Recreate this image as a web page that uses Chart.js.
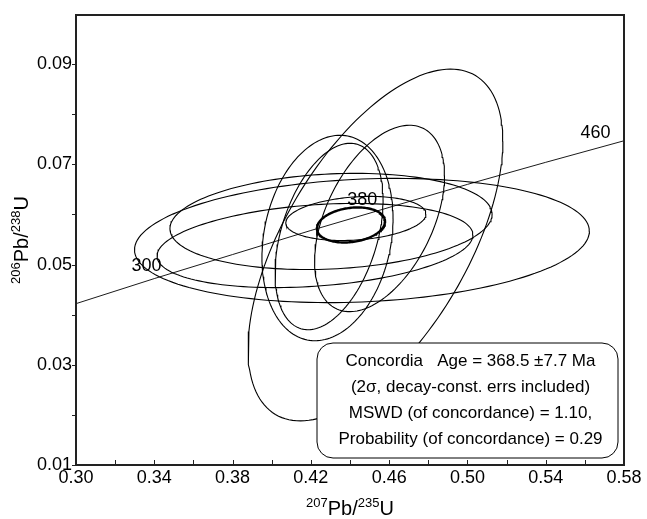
<!DOCTYPE html>
<html>
<head>
<meta charset="utf-8">
<script src="https://cdn.jsdelivr.net/npm/chart.js@4.4.1/dist/chart.umd.min.js"></script>
<style>
  html, body { margin: 0; padding: 0; background: #fff; }
  #wrap { width: 647px; height: 519px; }
</style>
</head>
<body>
<div id="wrap"><canvas id="concordia-chart" width="647" height="519"></canvas></div>
<script>
// axis ticks
const xTicks = [0.30, 0.34, 0.38, 0.42, 0.46, 0.50, 0.54, 0.58];
const xMinor = [0.32, 0.36, 0.40, 0.44, 0.48, 0.52, 0.56];
const yTicks = [0.01, 0.03, 0.05, 0.07, 0.09];
const yMinor = [0.02, 0.04, 0.06, 0.08];

// error ellipses: centre, half widths (2 sigma), correlation
const ellCx  = [0.4530, 0.4551, 0.4285, 0.4293, 0.4461, 0.4303, 0.4221, 0.4430];
const ellCy  = [0.0539, 0.0592, 0.0553, 0.0556, 0.0548, 0.0586, 0.0538, 0.0592];
const ellHx  = [0.0651, 0.0332, 0.0335, 0.0276, 0.1162, 0.0823, 0.0807, 0.0358];
const ellHy  = [0.0351, 0.0186, 0.0205, 0.0186, 0.0124, 0.0096, 0.0084, 0.0044];
const ellRho = [0.59, 0.46, 0.19, 0.39, 0.15, 0.15, 0.25, 0.20];

// concordia age ellipse (bold)
const ageCx = 0.4405, ageCy = 0.0579, ageHx = 0.0174, ageHy = 0.0035, ageRho = 0.20;

// concordia curve
const concX = [0.30, 0.34, 0.38, 0.42, 0.46, 0.50, 0.54, 0.58];
const concY = [0.0422, 0.0472, 0.0520, 0.0568, 0.0614, 0.0660, 0.0704, 0.0747];

// age marks on the curve
const ageLabels = ['300', '380', '460'];
const ageX = [0.3437, 0.4539, 0.5731];
const ageY = [0.0476, 0.0607, 0.0740];

const boxLines = [
  'Concordia   Age = 368.5 \u00b17.7 Ma',
  '(2\u03c3, decay-const. errs included)',
  'MSWD (of concordance) = 1.10,',
  'Probability (of concordance) = 0.29'
];

const FONT = "'Liberation Sans', Arial, sans-serif";

function ellipsePoints(cx, cy, hx, hy, rho) {
  const pts = [];
  const s = Math.sqrt(1 - rho * rho);
  for (let k = 0; k <= 160; k++) {
    const t = 2 * Math.PI * k / 160;
    pts.push({ x: cx + hx * Math.cos(t), y: cy + hy * (rho * Math.cos(t) + s * Math.sin(t)) });
  }
  return pts;
}

const datasets = [];
for (let i = 0; i < ellCx.length; i++) {
  datasets.push({
    data: ellipsePoints(ellCx[i], ellCy[i], ellHx[i], ellHy[i], ellRho[i]),
    showLine: true, borderColor: '#000', borderWidth: 1.1, pointRadius: 0, tension: 0
  });
}
datasets.push({
  data: ellipsePoints(ageCx, ageCy, ageHx, ageHy, ageRho),
  showLine: true, borderColor: '#000', borderWidth: 2.4, pointRadius: 0
});
datasets.push({
  data: concX.map((v, i) => ({ x: v, y: concY[i] })),
  showLine: true, borderColor: '#000', borderWidth: 0.9, pointRadius: 0
});

function drawSupText(ctx, parts, x, y, align) {
  // parts: [text, isSup]
  let w = 0;
  parts.forEach(p => {
    ctx.font = (p[1] ? '13px ' : '20px ') + FONT;
    w += ctx.measureText(p[0]).width;
  });
  let cx = align === 'center' ? x - w / 2 : x;
  parts.forEach(p => {
    ctx.font = (p[1] ? '13px ' : '20px ') + FONT;
    ctx.fillText(p[0], cx, p[1] ? y - 8 : y);
    cx += ctx.measureText(p[0]).width;
  });
}

const decor = {
  id: 'decor',
  afterDatasetsDraw(chart) {
    const { ctx, chartArea: a, scales: { x, y } } = chart;
    ctx.save();
    ctx.fillStyle = '#000';
    ctx.textAlign = 'right';
    ctx.textBaseline = 'alphabetic';
    ctx.font = '18px ' + FONT;
    ageLabels.forEach((t, i) => {
      ctx.fillText(t, x.getPixelForValue(ageX[i]), y.getPixelForValue(ageY[i]) - 6);
    });

    // result box
    const bx = a.right - 307, by = a.bottom - 122, bw = 301, bh = 115, r = 16;
    ctx.beginPath();
    ctx.roundRect(bx, by, bw, bh, r);
    ctx.fillStyle = '#fff';
    ctx.fill();
    ctx.lineWidth = 1;
    ctx.strokeStyle = '#000';
    ctx.stroke();
    ctx.fillStyle = '#000';
    ctx.textAlign = 'center';
    ctx.textBaseline = 'middle';
    ctx.font = '17px ' + FONT;
    boxLines.forEach((t, i) => ctx.fillText(t, bx + bw / 2 + 3, by + 18 + i * 26));

    // frame
    ctx.lineWidth = 2;
    ctx.strokeStyle = '#222';
    ctx.strokeRect(a.left, a.top, a.right - a.left, a.bottom - a.top);

    // ticks: y outward, x inward
    ctx.lineWidth = 1;
    ctx.beginPath();
    yTicks.concat(yMinor).forEach(v => {
      const py = Math.round(y.getPixelForValue(v)) + 0.5;
      ctx.moveTo(a.left - 4, py);
      ctx.lineTo(a.left, py);
    });
    xTicks.concat(xMinor).forEach(v => {
      const px = Math.round(x.getPixelForValue(v)) + 0.5;
      ctx.moveTo(px, a.bottom);
      ctx.lineTo(px, a.bottom - 5);
    });
    ctx.stroke();

    // axis titles
    ctx.textAlign = 'left';
    ctx.textBaseline = 'alphabetic';
    drawSupText(ctx, [['207', true], ['Pb/', false], ['235', true], ['U', false]], (a.left + a.right) / 2, 515, 'center');
    ctx.translate(28, (a.top + a.bottom) / 2);
    ctx.rotate(-Math.PI / 2);
    drawSupText(ctx, [['206', true], ['Pb/', false], ['238', true], ['U', false]], 0, 0, 'center');
    ctx.restore();
  }
};

const ctx = document.getElementById('concordia-chart').getContext('2d');
const concordiaChart = new Chart(ctx, {
  type: 'scatter',
  data: { datasets: datasets },
  options: {
    responsive: false,
    animation: false,
    layout: { padding: { top: 15, right: 23, left: 0, bottom: 0 } },
    plugins: { legend: { display: false }, tooltip: { enabled: false } },
    scales: {
      x: {
        type: 'linear', min: 0.30, max: 0.58,
        afterBuildTicks: s => { s.ticks = xTicks.map(v => ({ value: v })); },
        afterFit: s => { s.height = 54; },
        grid: { display: false, drawTicks: false },
        border: { display: false },
        ticks: { autoSkip: false, maxRotation: 0, padding: 2, color: '#000',
                 font: { family: FONT, size: 18 }, callback: v => v.toFixed(2) }
      },
      y: {
        type: 'linear', min: 0.01, max: 0.0998,
        afterBuildTicks: s => { s.ticks = yTicks.map(v => ({ value: v })); },
        afterFit: s => { s.width = 76; },
        grid: { display: false, drawTicks: false },
        border: { display: false },
        ticks: { autoSkip: false, padding: 4, color: '#000',
                 font: { family: FONT, size: 18 }, callback: v => v.toFixed(2) }
      }
    }
  },
  plugins: [decor]
});
</script>
</body>
</html>
